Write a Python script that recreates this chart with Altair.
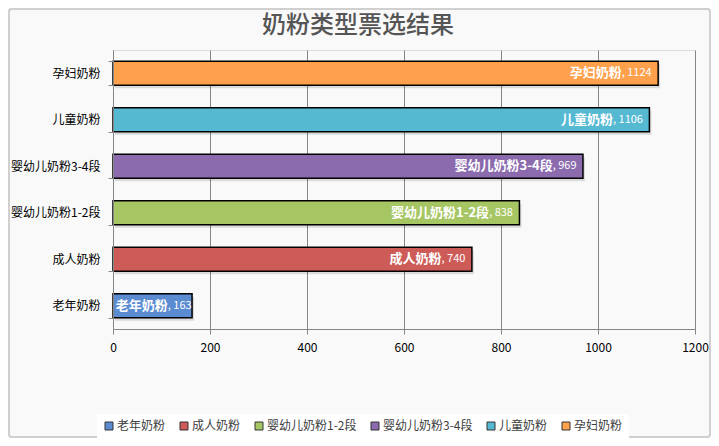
import altair as alt
import pandas as pd

title_text = ["奶粉类型票选结果"]
categories = ["老年奶粉", "成人奶粉", "婴幼儿奶粉1-2段", "婴幼儿奶粉3-4段", "儿童奶粉", "孕妇奶粉"]
values = [163, 740, 838, 969, 1106, 1124]
colors = ["#5B8BD0", "#CD5B58", "#A6C664", "#8B6BAD", "#55B9D2", "#FFA04D"]
x_ticks = [0, 200, 400, 600, 800, 1000, 1200]

df = pd.DataFrame({"cat": categories, "v": values})
tdf = pd.DataFrame({"t": title_text})

W, H = 582, 279
FONT = "Noto Sans CJK SC"

y_enc = alt.Y("cat:N", sort=categories[::-1],
              scale=alt.Scale(paddingInner=0.48, paddingOuter=0.24),
              axis=alt.Axis(title=None, labelFontSize=12, labelColor="#000000",
                            labelFont=FONT, labelPadding=8, tickBand="extent",
                            tickSize=5, tickColor="#868686", domainColor="#868686",
                            grid=False, zindex=1))
x_scale = alt.Scale(domain=[0, 1200], nice=False)
x_enc = alt.X("v:Q", scale=x_scale,
              axis=alt.Axis(title=None, values=x_ticks, format="d", labelFlush=False,
                            labelFontSize=12, labelColor="#000000", labelFont=FONT,
                            labelPadding=8, tickSize=5, tickColor="#868686",
                            domainColor="#868686", grid=True, gridColor="#868686",
                            gridWidth=1))
color_enc = alt.Color("cat:N", sort=categories,
                      scale=alt.Scale(domain=categories, range=colors),
                      legend=alt.Legend(title=None, orient="none", direction="horizontal",
                                        legendX=-16, legendY=364,
                                        symbolType="square", symbolSize=64,
                                        symbolStrokeColor="#333333", symbolStrokeWidth=1,
                                        labelFontSize=12, labelFont=FONT,
                                        labelColor="#404040", columnPadding=12,
                                        labelOffset=2, fillColor="#FFFFFF", padding=6))

frame = alt.Chart(df).mark_rect(fill=None, stroke="#D0D0D0", strokeWidth=1.5,
                                 cornerRadius=3, clip=False).encode(
    x=alt.value(-104), x2=alt.value(W + 15), y=alt.value(-41), y2=alt.value(H + 108))

title = alt.Chart(tdf).mark_text(fontSize=24, font=FONT, color="#555555",
                                  fontWeight=500, align="center",
                                  baseline="middle").encode(
    x=alt.value(245), y=alt.value(-24), text="t:N")

shadow = alt.Chart(df).mark_bar(color="#000000", opacity=0.12, xOffset=2, x2Offset=4,
                                 yOffset=3, y2Offset=3).encode(
    x=alt.X("v:Q", scale=x_scale), y=alt.Y("cat:N", sort=categories[::-1]))

bars = alt.Chart(df).mark_bar(stroke="#000000", strokeWidth=1.5).encode(
    x=x_enc, y=y_enc, color=color_enc)

lab = alt.Chart(df).transform_calculate(
    numlabel="', ' + datum.v",
    anchor="datum.v - ((datum.v < 300 ? 1 : 7) + 5 + length(toString(datum.v)) * 6.1) * 1200 / 582")

names = lab.mark_text(align="right", baseline="middle", color="#FFFFFF",
                      fontSize=13, fontWeight="bold", font=FONT).encode(
    x=alt.X("anchor:Q", scale=x_scale), y=alt.Y("cat:N", sort=categories[::-1]),
    text="cat:N")
nums = lab.mark_text(align="left", baseline="middle", color="#FFFFFF",
                     fontSize=11, font=FONT).encode(
    x=alt.X("anchor:Q", scale=x_scale), y=alt.Y("cat:N", sort=categories[::-1]),
    text="numlabel:N")

chart = alt.layer(frame, title, shadow, bars, names, nums).properties(
    width=W, height=H,
    autosize=alt.AutoSizeParams(type="none"),
    padding={"left": 105, "top": 42, "right": 16, "bottom": 109},
).configure_view(stroke=None).configure(background="#F9F9F9")

chart.save("out.html", embed_options={"renderer": "svg", "actions": False})
